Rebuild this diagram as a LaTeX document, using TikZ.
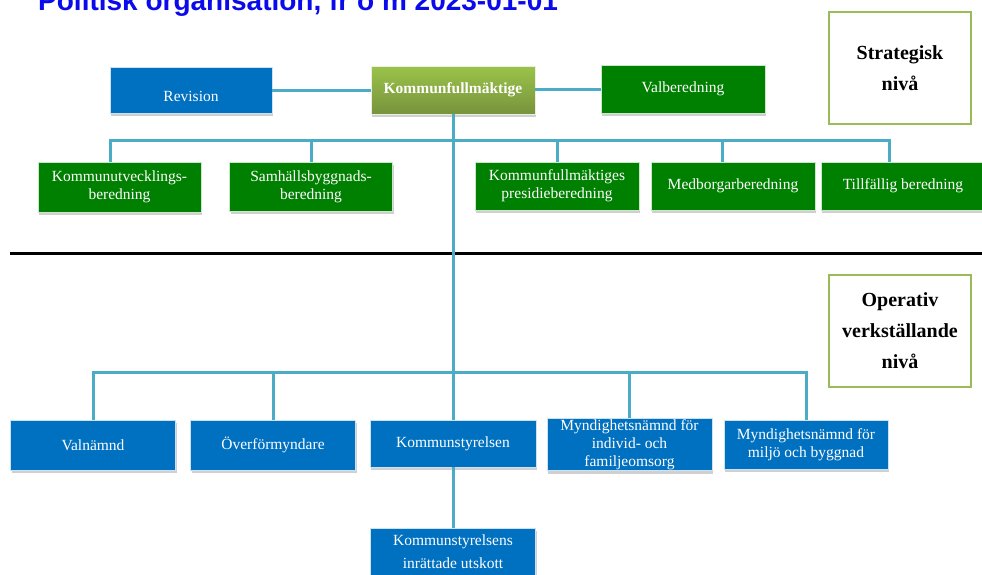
\documentclass[tikz,border=0pt]{standalone}
\usepackage{fontspec}
\setmainfont{Liberation Serif}
\newfontfamily\titlefont{Liberation Sans}
\usetikzlibrary{shadows}
\definecolor{boxblue}{RGB}{0,112,192}
\definecolor{boxgreen}{RGB}{0,128,0}
\definecolor{kftop}{RGB}{155,195,74}
\definecolor{kfbot}{RGB}{119,147,60}
\definecolor{conncol}{RGB}{75,172,198}
\definecolor{levelcol}{RGB}{155,187,89}
\definecolor{titleblue}{RGB}{10,10,235}
\tikzset{
  orgbox/.style={text=white, align=center, inner sep=1pt,
    font=\fontsize{15.5}{18}\selectfont,
    drop shadow={shadow xshift=1pt, shadow yshift=-3pt, opacity=0.3, fill=black!60}},
  bluebox/.style={orgbox, fill=boxblue, draw=white!80!boxblue, line width=0.6pt},
  greenbox/.style={orgbox, fill=boxgreen, draw=white!80!boxgreen, line width=0.6pt},
  kfbox/.style={orgbox, top color=kftop, bottom color=kfbot, draw=white!85!kfbot, line width=0.6pt,
    font=\fontsize{15.5}{18}\selectfont\bfseries},
  levelbox/.style={draw=levelcol, line width=2.5pt, fill=white, align=center,
    minimum width=142pt, minimum height=112pt, inner sep=0pt,
    font=\fontsize{20}{31}\selectfont\bfseries},
  conn/.style={draw=conncol, line width=3pt}
}
\begin{document}
\begin{tikzpicture}[x=1pt,y=-1pt]
\useasboundingbox (0,0) rectangle (982,574);
\clip (0,0) rectangle (982,574);
\fill[white] (0,0) rectangle (982,574);

% title (cut off at the top edge, as in the reference)
\node[anchor=base west, inner sep=0pt, text=titleblue,
  font=\titlefont\bfseries\fontsize{28}{30}\selectfont] (title) at (38,10)
  {Politisk organisation, fr o m 2023-01-01};

% level boxes
\node[levelbox] (strat) at (900,68) {Strategisk\\nivå};
\node[levelbox] (oper) at (900,331) {Operativ\\verkställande\\nivå};

% separator
\draw[line width=3pt, black] (10,253) -- (982,253);

% top row
\node[bluebox, minimum width=162pt, minimum height=46pt] (rev) at (191,90) {\raisebox{-11pt}[0pt][0pt]{Revision}};
\node[kfbox, minimum width=164pt, minimum height=48pt] (kf) at (453,90) {Kommunfullmäktige};
\node[greenbox, minimum width=164pt, minimum height=48pt] (val) at (683,89) {Valberedning};

% second row
\node[greenbox, minimum width=163pt, minimum height=50pt] (ku) at (119.5,187) {Kommunutvecklings-\\beredning};
\node[greenbox, minimum width=163pt, minimum height=49pt] (sb) at (311,186.5) {Samhällsbyggnads-\\beredning};
\node[greenbox, minimum width=164pt, minimum height=48pt] (kp) at (557,186) {Kommunfullmäktiges\\presidieberedning};
\node[greenbox, minimum width=164pt, minimum height=48pt] (mb) at (733,186) {Medborgarberedning};
\node[greenbox, minimum width=164pt, minimum height=48pt] (tb) at (903,186) {Tillfällig beredning};

% bottom row
\node[bluebox, minimum width=165pt, minimum height=50pt] (vn) at (93,445) {Valnämnd};
\node[bluebox, minimum width=165pt, minimum height=50pt] (of) at (273,445) {Överförmyndare};
\node[bluebox, minimum width=166pt, minimum height=47pt] (ks) at (453,443.5) {Kommunstyrelsen};
\node[bluebox, minimum width=165pt, minimum height=49pt] (mi) at (629.5,444.5) {Myndighetsnämnd för\\individ- och\\familjeomsorg};
\node[bluebox, minimum width=164pt, minimum height=49pt] (mm) at (806,444.5) {Myndighetsnämnd för\\miljö och byggnad};
\node[bluebox, minimum width=165pt, minimum height=48pt] (ut) at (453,552) {Kommunstyrelsens\\[5pt]inrättade utskott};

% bus coordinates
\coordinate (bus) at (453,140);
\coordinate (bus2) at (453,372);

% connectors
\draw[conn] (rev.east) -- (kf.west |- rev.east);
\draw[conn] (kf.east |- val.west) -- (val.west);
\draw[conn] (kf.south) -- (ks.north);
\draw[conn] ([xshift=-9pt]ku.north) |- (bus) -| ([xshift=-14pt]tb.north);
\draw[conn] (sb.north) -- (sb.north |- bus);
\draw[conn] (kp.north) -- (kp.north |- bus);
\draw[conn] ([xshift=-11pt]mb.north) -- ([xshift=-11pt]mb.north |- bus);
\draw[conn] (vn.north) |- (bus2) -| (mm.north);
\draw[conn] (of.north) -- (of.north |- bus2);
\draw[conn] (mi.north) -- (mi.north |- bus2);
\draw[conn] (ks.south) -- (ut.north);
\end{tikzpicture}
\end{document}
